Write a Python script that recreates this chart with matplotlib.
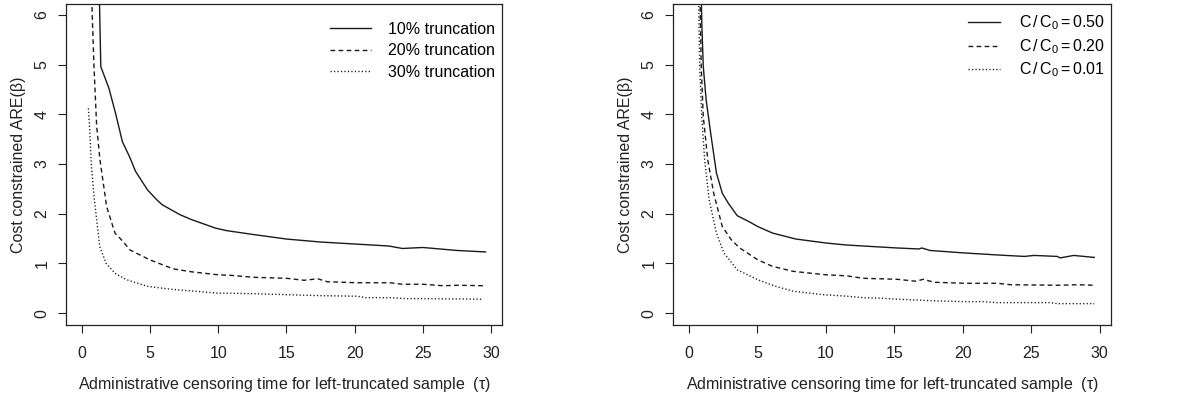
import matplotlib
matplotlib.use("Agg")
import matplotlib.pyplot as plt

plt.rcParams['font.family'] = ['Liberation Sans', 'DejaVu Sans']
plt.rcParams['mathtext.fontset'] = 'custom'
plt.rcParams['mathtext.rm'] = 'Liberation Sans'
plt.rcParams['mathtext.it'] = 'Liberation Sans:italic'
plt.rcParams['lines.scale_dashes'] = False

# ---- Left panel data: truncation level ----
trunc_labels = ["10% truncation", "20% truncation", "30% truncation"]
t10_x = [1.25, 1.30, 1.40, 2.0, 2.5, 2.98, 3.5, 3.95, 4.82, 5.5, 5.9, 7.2, 8.06, 9.8,
         10.6, 12.6, 15.0, 17.5, 20.0, 22.5, 23.5, 25.0, 27.5, 29.6]
t10_y = [8.0, 6.3, 4.96, 4.52, 4.0, 3.45, 3.15, 2.85, 2.48, 2.28, 2.18, 1.98, 1.88, 1.71,
         1.66, 1.58, 1.49, 1.43, 1.39, 1.35, 1.30, 1.32, 1.26, 1.23]
t20_x = [0.70, 0.76, 0.90, 1.10, 1.34, 1.83, 2.44, 3.0, 3.54, 5.0, 6.7, 8.06, 10.0, 10.9,
         12.6, 15.0, 16.3, 17.3, 18.0, 20.2, 22.6, 23.5, 25.0, 26.5, 27.5, 29.6]
t20_y = [8.0, 6.1, 4.96, 3.75, 3.08, 2.14, 1.61, 1.45, 1.27, 1.07, 0.89, 0.83, 0.77, 0.76,
         0.72, 0.70, 0.66, 0.69, 0.63, 0.61, 0.61, 0.58, 0.58, 0.55, 0.56, 0.55]
t30_x = [0.49, 0.6, 0.71, 0.93, 1.32, 1.79, 2.44, 3.3, 4.8, 6.5, 8.3, 10.0, 10.9, 12.6,
         15.0, 17.5, 20.2, 20.8, 22.6, 23.8, 25.0, 29.4]
t30_y = [4.12, 3.62, 2.95, 2.28, 1.34, 1.0, 0.80, 0.67, 0.54, 0.48, 0.44, 0.40, 0.40, 0.39,
         0.37, 0.35, 0.34, 0.31, 0.31, 0.29, 0.29, 0.28]

# ---- Right panel data: cost ratio C/C0 ----
cost_labels = [r"$\mathrm{C}\,/\,\mathrm{C}_0 = 0.50$",
               r"$\mathrm{C}\,/\,\mathrm{C}_0 = 0.20$",
               r"$\mathrm{C}\,/\,\mathrm{C}_0 = 0.01$"]
c50_x = [0.80, 0.93, 1.04, 1.25, 1.58, 2.0, 2.43, 2.87, 3.52, 4.38, 5.03, 6.1, 7.8, 10.0,
         11.5, 12.7, 15.2, 16.8, 17.0, 17.6, 20.1, 22.5, 24.5, 25.2, 26.9, 27.1, 28.1, 29.6]
c50_y = [8.0, 5.83, 4.96, 4.29, 3.62, 2.82, 2.41, 2.21, 1.96, 1.84, 1.74, 1.61, 1.49, 1.41,
         1.37, 1.35, 1.31, 1.29, 1.31, 1.26, 1.21, 1.17, 1.14, 1.16, 1.14, 1.11, 1.16, 1.12]
c20_x = [0.70, 0.89, 1.04, 1.37, 1.8, 2.43, 3.1, 3.7, 5.03, 6.1, 7.6, 10.0, 11.5, 12.7,
         15.2, 16.6, 17.1, 17.9, 20.1, 22.5, 23.5, 26.9, 28.4, 29.6]
c20_y = [8.0, 4.96, 3.95, 3.08, 2.41, 1.74, 1.47, 1.31, 1.07, 0.94, 0.84, 0.77, 0.75, 0.70,
         0.68, 0.64, 0.68, 0.62, 0.60, 0.60, 0.57, 0.56, 0.57, 0.56]
c01_x = [0.60, 0.78, 0.93, 1.14, 1.47, 2.0, 2.55, 3.52, 5.03, 6.3, 7.6, 9.8, 11.5, 12.7,
         13.9, 15.2, 17.6, 20.1, 21.5, 22.5, 26.4, 26.9, 29.6]
c01_y = [8.0, 4.96, 3.95, 3.08, 2.28, 1.61, 1.21, 0.87, 0.67, 0.54, 0.44, 0.37, 0.34, 0.31,
         0.30, 0.28, 0.25, 0.23, 0.23, 0.21, 0.21, 0.19, 0.19]

x_ticks = [0, 5, 10, 15, 20, 25, 30]
y_ticks = [0, 1, 2, 3, 4, 5, 6]
xlabel = r"Administrative censoring time for left-truncated sample  ($\mathrm{\tau}$)"
ylabel = "Cost constrained ARE(β)"

W, H = 1178, 397
fig = plt.figure(figsize=(W / 100, H / 100), dpi=100)

dash = (0, (3.4, 2.4))
dot = (0, (0.9, 1.6))
styles = ['-', dash, dot]
LW = 1.0
FS = 11.5
TXT = '#222222'

def setup(ax, series, labels, leg_anchor, handlelen, textpad, spacing):
    for (x, y), ls, lab in zip(series, styles, labels):
        ax.plot(x, y, color='#1a1a1a', lw=LW, linestyle=ls, label=lab)
    ax.set_xlim(-1.15, 30.8)
    ax.set_ylim(-0.24, 6.22)
    ax.set_xticks(x_ticks)
    ax.set_yticks(y_ticks)
    ax.tick_params(direction='out', length=5.5, width=0.8, labelsize=FS, colors=TXT)
    ax.tick_params(axis='x', pad=9.5)
    ax.tick_params(axis='y', pad=6.5)
    for lab in ax.get_yticklabels():
        lab.set_rotation(90)
        lab.set_va('center')
    for s in ax.spines.values():
        s.set_linewidth(0.9)
        s.set_color('#222222')
    ax.set_xlabel(xlabel, fontsize=FS, color=TXT, labelpad=10)
    ax.set_ylabel(ylabel, fontsize=FS, color=TXT, labelpad=6)
    ax.legend(frameon=False, loc='upper right', bbox_to_anchor=leg_anchor,
              fontsize=FS, handlelength=handlelen, handletextpad=textpad,
              labelspacing=spacing, borderpad=0, borderaxespad=0)

axL = fig.add_axes([66 / W, 1 - 325 / H, (502 - 66) / W, (325 - 4) / H])
setup(axL, [(t10_x, t10_y), (t20_x, t20_y), (t30_x, t30_y)], trunc_labels,
      (0.984, 0.945), 2.6, 1.05, 0.42)

axR = fig.add_axes([673.3 / W, 1 - 325 / H, (1110.7 - 673.3) / W, (325 - 4) / H])
setup(axR, [(c50_x, c50_y), (c20_x, c20_y), (c01_x, c01_y)], cost_labels,
      (0.986, 0.97), 2.0, 1.15, 0.3)

fig.savefig("out.png", dpi=100)
